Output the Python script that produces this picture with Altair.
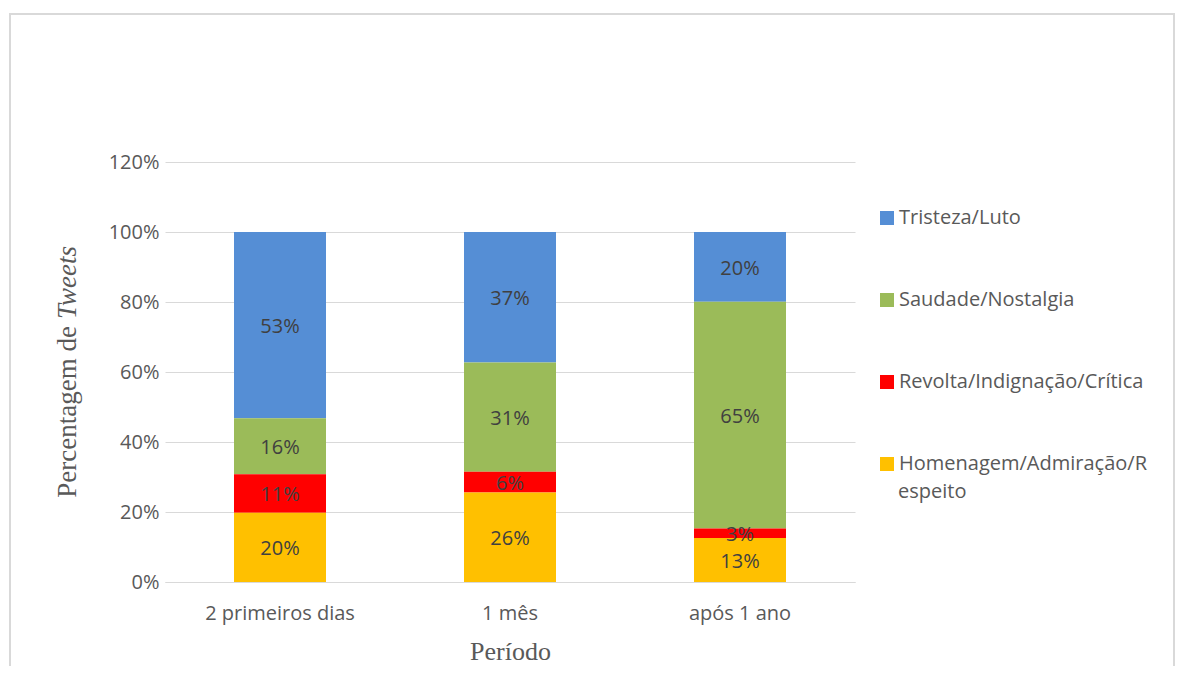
import altair as alt
import pandas as pd

periods = ["2 primeiros dias", "1 mês", "após 1 ano"]
categories = ["Tristeza/Luto", "Saudade/Nostalgia", "Revolta/Indignação/Crítica", "Homenagem/Admiração/Respeito"]
colors = ["#558ED5", "#9BBB59", "#FF0000", "#FFC000"]
stack_rank = [3, 2, 1, 0]  # bottom of stack = 0

tristeza = [0.532, 0.373, 0.199]
saudade = [0.160, 0.312, 0.648]
revolta = [0.110, 0.059, 0.027]
homenagem = [0.198, 0.256, 0.126]

series = [tristeza, saudade, revolta, homenagem]
rows = []
for cat, rank, vals in zip(categories, stack_rank, series):
    for p, v in zip(periods, vals):
        rows.append({"periodo": p, "categoria": cat, "ord": rank, "valor": v})
df = pd.DataFrame(rows)

SANS = "Open Sans"
SERIF = "Liberation Serif"
GREY = "#595959"

base = alt.Chart(df)

x_enc = alt.X(
    "periodo:N", sort=periods,
    scale=alt.Scale(paddingInner=0.6, paddingOuter=0.3),
    axis=alt.Axis(title="Período", titleFont=SERIF, titleFontSize=26, titleFontWeight="normal",
                  titleColor=GREY, titlePadding=15, labelFont=SANS, labelFontSize=20,
                  labelColor=GREY, labelAngle=0, labelPadding=21, ticks=False,
                  domain=True, domainColor="#d9d9d9", grid=False),
)

bars = base.mark_bar().encode(
    x=x_enc,
    y=alt.Y("valor:Q", stack="zero",
            scale=alt.Scale(domain=[0, 1.2], nice=False),
            axis=alt.Axis(title=None, values=[0, 0.2, 0.4, 0.6, 0.8, 1.0, 1.2], format=".0%",
                          labelFont=SANS, labelFontSize=20, labelColor=GREY, labelPadding=6,
                          ticks=False, domain=False, grid=True, gridColor="#d9d9d9", gridWidth=1)),
    color=alt.Color("categoria:N",
                    scale=alt.Scale(domain=categories, range=colors),
                    legend=alt.Legend(title=None, orient="none", legendX=712, legendY=46,
                                      symbolType="square", symbolSize=196, symbolStrokeWidth=0,
                                      labelFont=SANS, labelFontSize=20, labelColor=GREY,
                                      labelLimit=500, rowPadding=62, labelOffset=2,
                                      labelExpr="datum.label == 'Homenagem/Admiração/Respeito' ? 'Homenagem/Admiração/R' : datum.label")),
    order=alt.Order("ord:Q", sort="ascending"),
)

labels = base.transform_stack(
    stack="valor", groupby=["periodo"], as_=["y0", "y1"], sort=[alt.SortField("ord", order="ascending")]
).transform_calculate(
    mid="(datum.y0 + datum.y1) / 2"
).mark_text(font=SANS, fontSize=20, color="#404040", baseline="middle", dy=2).encode(
    x=alt.X("periodo:N", sort=periods),
    y=alt.Y("mid:Q"),
    text=alt.Text("valor:Q", format=".0%"),
)

one = alt.Chart(alt.Data(values=[{}]))

wrap_text = one.mark_text(font=SANS, fontSize=20, color=GREY, align="left", baseline="middle").encode(
    x=alt.value(733), y=alt.value(330), text=alt.value("espeito"))

ytitle1 = one.mark_text(font=SERIF, fontSize=27, color=GREY, align="right", baseline="middle", angle=270).encode(
    x=alt.value(-97), y=alt.value(164), text=alt.value("Percentagem de"))
ytitle2 = one.mark_text(font=SERIF, fontSize=27, color=GREY, align="left", baseline="middle", angle=270,
                        fontStyle="italic").encode(
    x=alt.value(-97), y=alt.value(157), text=alt.value("Tweets"))

frame = one.mark_rect(fill=None, stroke="#d9d9d9", strokeWidth=2).encode(
    x=alt.value(-155), x2=alt.value(1009), y=alt.value(-148), y2=alt.value(560))

chart = alt.layer(frame, bars, labels, wrap_text, ytitle1, ytitle2).properties(
    width=690, height=420,
    autosize=alt.AutoSizeParams(type="none"),
    padding={"left": 157, "top": 154, "right": 320, "bottom": 84},
).configure_view(stroke=None)

chart.save("out.html", embed_options={"renderer": "svg", "actions": False})
